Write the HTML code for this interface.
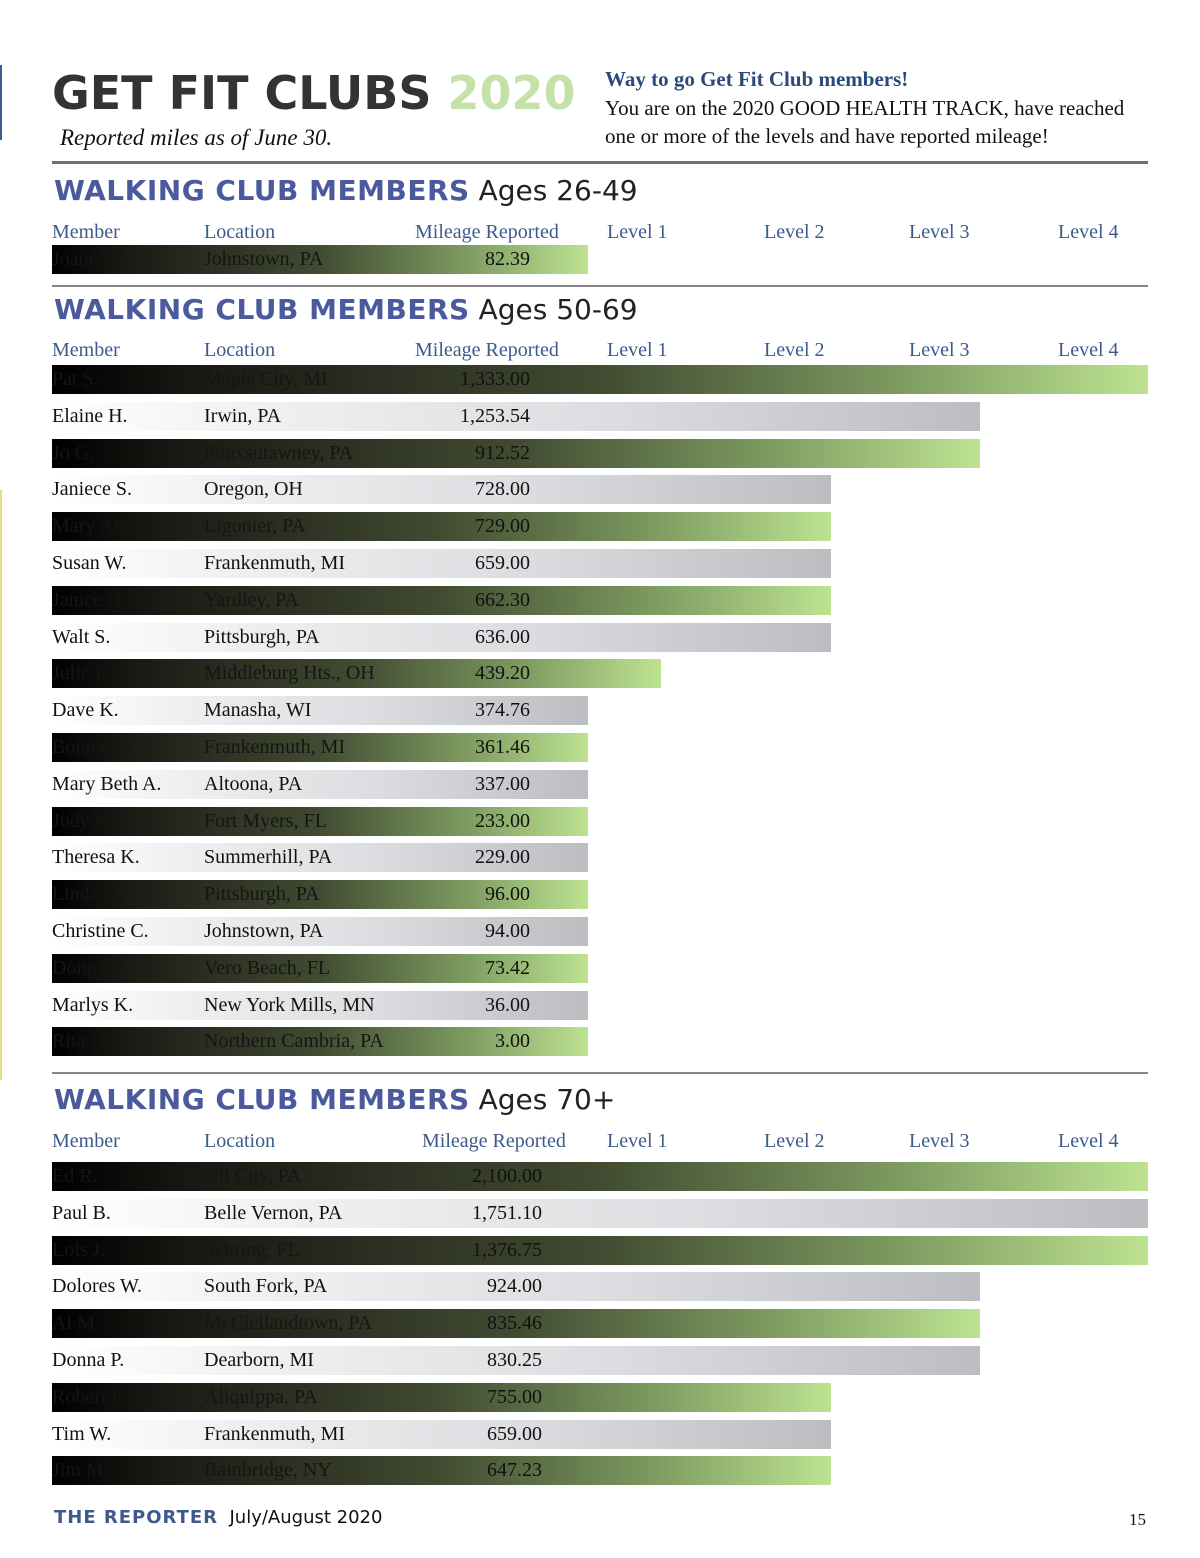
<!DOCTYPE html>
<html><head><meta charset="utf-8">
<style>
body{margin:0;background:#fff;}
#page{position:relative;width:1200px;height:1558px;overflow:hidden;background:#fff;font-family:"Liberation Serif",serif;}
.abs{position:absolute;white-space:nowrap;}
.sans{font-family:"DejaVu Sans","Liberation Sans",sans-serif;}
.hdr{color:#3c5a8c;font-size:20px;}
.rule{position:absolute;left:52px;width:1096px;background:#858585;}
.bar{position:absolute;left:52px;height:29px;}
.dark{background:linear-gradient(90deg,#000 0%,#161712 12%,#2c2f22 30%,#414b31 50%,#7f9d62 78%,#bde391 100%);}
.light{background:linear-gradient(90deg,#fff 0%,#eeeff0 25%,#dcdde0 60%,#bcbdc1 100%);}
.cell{position:absolute;font-size:20px;line-height:29px;color:#111;white-space:nowrap;}
</style></head>
<body>
<div id="page">
<div class="abs" style="left:0;top:65px;width:2px;height:75px;background:#3d5d93"></div>
<div class="abs" style="left:0;top:490px;width:2px;height:590px;background:#e5e07a"></div>
<div class="abs sans" style="left:52px;top:66px;font-size:46px;font-weight:bold;color:#333;letter-spacing:0px">GET FIT CLUBS <span style="color:#c5e2a6">2020</span></div>
<div class="abs" style="left:60px;top:125px;font-size:23px;font-style:italic;color:#111">Reported miles as of June 30.</div>
<div class="abs" style="left:605px;top:67px;font-size:21px;font-weight:bold;color:#2b4a7c">Way to go Get Fit Club members!</div>
<div class="abs" style="left:605px;top:94px;font-size:21px;line-height:28px;color:#111">You are on the 2020 GOOD HEALTH TRACK, have reached<br>one or more of the levels and have reported mileage!</div>
<div class="rule" style="top:161px;height:3px;background:#707070"></div>
<div id="content"></div>
<div class="abs sans" style="left:54px;top:1507px;font-size:18px;color:#111"><b style="color:#3c5a8c;letter-spacing:1px">THE REPORTER</b>&nbsp; July/August 2020</div>
<div class="abs" style="left:1129px;top:1510px;font-size:17px;color:#111">15</div>
</div>
<script>
// Data
const sectionTitles = ["Ages 26-49", "Ages 50-69", "Ages 70+"];
const names1 = ["Joanna E."];
const locs1 = ["Johnstown, PA"];
const miles1 = [82.39];
const names2 = ["Pat S.","Elaine H.","Jo G.","Janiece S.","Mary Anne B.","Susan W.","Janice O.","Walt S.","Julie K.","Dave K.","Bonnie B.","Mary Beth A.","Judy R.","Theresa K.","Linda G.","Christine C.","Donna E.","Marlys K.","Rita H."];
const locs2 = ["Maple City, MI","Irwin, PA","Punxsutawney, PA","Oregon, OH","Ligonier, PA","Frankenmuth, MI","Yardley, PA","Pittsburgh, PA","Middleburg Hts., OH","Manasha, WI","Frankenmuth, MI","Altoona, PA","Fort Myers, FL","Summerhill, PA","Pittsburgh, PA","Johnstown, PA","Vero Beach, FL","New York Mills, MN","Northern Cambria, PA"];
const miles2 = [1333.00,1253.54,912.52,728.00,729.00,659.00,662.30,636.00,439.20,374.76,361.46,337.00,233.00,229.00,96.00,94.00,73.42,36.00,3.00];
const names3 = ["Ed R.","Paul B.","Lois J.","Dolores W.","Al M.","Donna P.","Robert K.","Tim W.","Jim M."];
const locs3 = ["Oil City, PA","Belle Vernon, PA","Sebring, FL","South Fork, PA","McClellandtown, PA","Dearborn, MI","Aliquippa, PA","Frankenmuth, MI","Bainbridge, NY"];
const miles3 = [2100.00,1751.10,1376.75,924.00,835.46,830.25,755.00,659.00,647.23];
const levelLabels = ["Level 1","Level 2","Level 3","Level 4"];
const levelThresholds = [400, 600, 800, 1300];

// Scale: miles -> bar end x (stepped by level reached)
const levelEnds = [588, 661, 831, 980, 1148];
function xScale(v){ let i=0; while(i<levelThresholds.length && v>=levelThresholds[i]) i++; return levelEnds[i]; }
function fmt(v){ return v.toLocaleString('en-US',{minimumFractionDigits:2,maximumFractionDigits:2}); }

const content = document.getElementById('content');
function add(tag, cls, style, text){ const e=document.createElement(tag); if(cls) e.className=cls; e.style.cssText=style; if(text!==undefined) e.textContent=text; content.appendChild(e); return e; }

const sections = [
  {title:sectionTitles[0], names:names1, locs:locs1, miles:miles1, titleY:174, hdrY:221, rowY:245, divY:285},
  {title:sectionTitles[1], names:names2, locs:locs2, miles:miles2, titleY:293, hdrY:339, rowY:365, divY:1072},
  {title:sectionTitles[2], names:names3, locs:locs3, miles:miles3, titleY:1083, hdrY:1130, rowY:1162, divY:null}
];
const levelX = [607, 764, 909, 1058];
sections.forEach((s, si) => {
  const t = add('div','abs sans',`left:54px;top:${s.titleY}px;font-size:28px;color:#222`);
  t.innerHTML = '<b style="color:#4a5a9c;letter-spacing:0.5px">WALKING CLUB MEMBERS</b> ' + s.title;
  
  
  const hdrs = [["Member",52],["Location",204],["Mileage Reported",si===2?422:415]];
  hdrs.forEach(h => {
    const e = add('div','abs hdr',`left:${h[1]}px;top:${s.hdrY}px`, h[0]);
    
    
  });
  levelLabels.forEach((l, li) => {
    const e = add('div','abs hdr',`left:${levelX[li]}px;top:${s.hdrY}px`, l);
    
    
  });
  s.miles.forEach((m, i) => {
    const y = s.rowY + i*36.8;
    const dark = i%2===0;
    const b = add('div','bar '+(dark?'dark':'light'),`top:${y}px;width:${xScale(m)-52}px`);
    
    
    const n = add('div','cell',`left:52px;top:${y}px;${dark?'color:#151515;':''}`, s.names[i]);
    
    
    const l = add('div','cell',`left:204px;top:${y}px;${dark?'color:#151515;':''}`, s.locs[i]);
    
    
    const v = add('div','cell',`left:380px;width:150px;text-align:right;top:${y}px;${si===2?'left:392px;':''}`, fmt(m));
    
    
  });
  if (s.divY) {
    const d = add('div','rule',`top:${s.divY}px;height:2px`);
    
    
  }
});
</script>
</body></html>
